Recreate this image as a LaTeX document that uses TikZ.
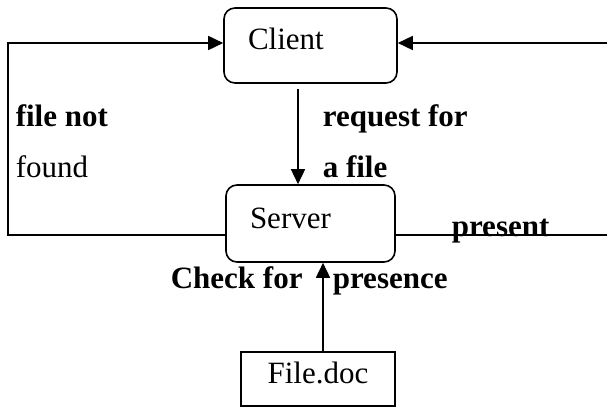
\documentclass[tikz,border=0pt]{standalone}
\usepackage{fontspec}
\setmainfont{Liberation Serif}
\usetikzlibrary{arrows.meta}
\begin{document}
\begin{tikzpicture}[x=1pt,y=-1pt,
  line width=1.6pt,
  bigtext/.style={font=\fontsize{31}{37}\selectfont},
  lbl/.style={bigtext, font=\fontsize{31}{37}\selectfont\bfseries, anchor=base west, inner sep=0pt},
  plainlbl/.style={bigtext, anchor=base west, inner sep=0pt},
  procbox/.style={draw, rounded corners=11pt, bigtext, text height=21pt, text depth=12pt,
    inner xsep=24pt, align=left},
  filebox/.style={draw, bigtext, text height=21pt, text depth=12pt, align=center},
  flow/.style={-{Triangle[length=15pt,width=14pt]}}]
\useasboundingbox (0,0) rectangle (607,409);

% processes and the stored file
\node[procbox, minimum width=173pt, minimum height=75pt, text width=125pt] (client) at (310.5,45.5) {Client};
\node[procbox, minimum width=169pt, minimum height=77pt, text width=121pt] (server) at (310.5,223.5) {Server};
\node[filebox, minimum width=154pt, minimum height=54pt] (file) at (318,379) {File.doc};

% corner points of the return loops
\coordinate (tl) at (8,43);
\coordinate (bl) at (8,235);
\coordinate (tr) at (607,43);
\coordinate (br) at (607,235);
\coordinate (rq) at (298,89);

% file not found: back to the client
\draw[flow] (server.west |- bl) -- (bl) -- (tl) -- (tl -| client.west);
% file present: out to the right and back in
\draw (server.east |- br) -- (br);
\draw[flow] (tr) -- (tr -| client.east);
% request from client to server
\draw[flow] (rq) -- (rq |- server.north);
% presence check against the file
\draw[flow] ([xshift=5pt]file.north) -- ([xshift=5pt]file.north |- server.south);

% labels
\node[lbl] (l1) at (15,127) {file not};
\node[plainlbl] (l2) at (15,177) {found};
\node[lbl] (l3) at (322,127) {request for};
\node[lbl] (l4) at (322,177) {a file};
\node[lbl] (l5) at (451,236) {present};
\node[lbl] (l6) at (170,288) {Check for};
\node[lbl] (l7) at (332,288) {presence};
\end{tikzpicture}
\end{document}
